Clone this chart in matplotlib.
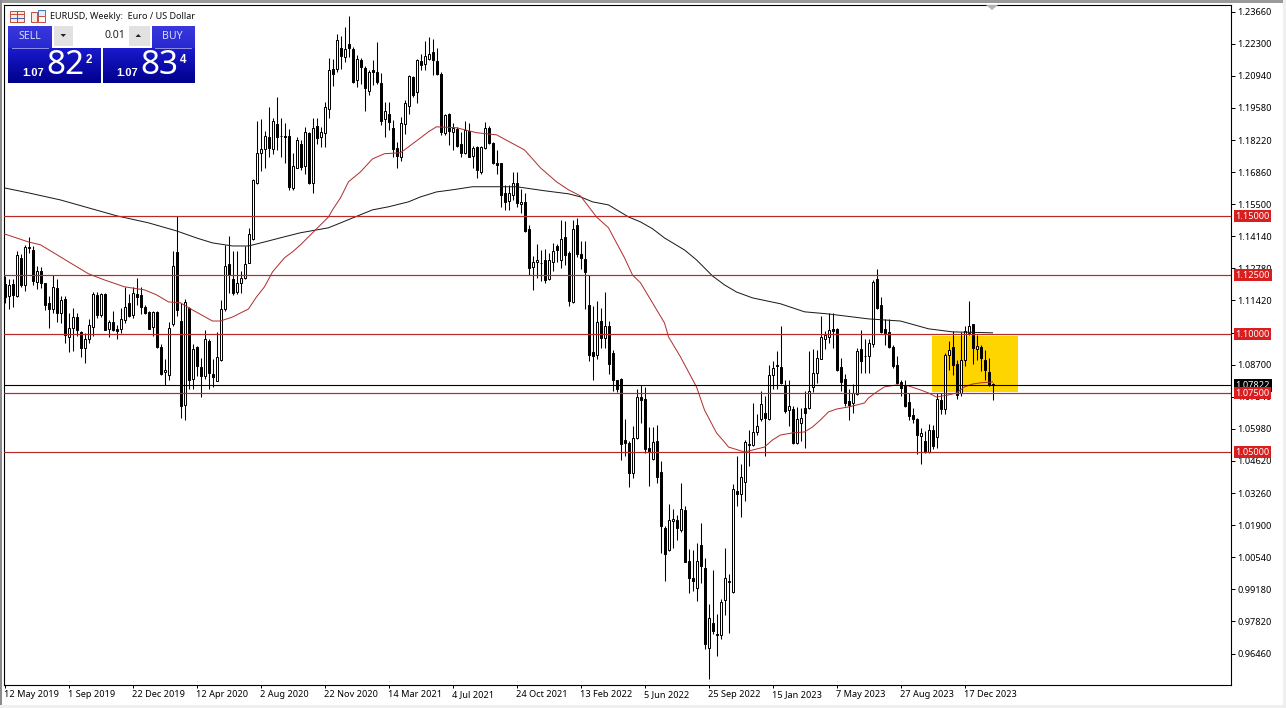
# -*- coding: utf-8 -*-
import matplotlib.pyplot as plt
from matplotlib.patches import Rectangle, Polygon
from matplotlib.transforms import blended_transform_factory
import numpy as np

plt.rcParams['font.family'] = ['Noto Sans', 'DejaVu Sans']

# weekly candles
directions = (
    "d u d u d u u d u d "
    "d d u d u d u u d d "
    "u u u d u d u d d u "
    "u d u d d d d u d d "
    "u u u d d u d u d d "
    "u d d u u u d d u u "
    "u u u u u u d u d u "
    "d d u u d u d u d u "
    "u u d u d u d d u d "
    "d u d d d u d d d u "
    "u u d u d u u d d d "
    "u d u d d u d u d u "
    "u d d d d d u u d u "
    "d d u u u d u u d u "
    "d d u d d d d d u d "
    "u d d d d d d u u d "
    "d d u d d d u u d u "
    "d d d u d d u d d u "
    "u u u d u u u u u u "
    "d u u u d d u d u u "
    "d u u u u u u d d d "
    "d d u u d d u u d d "
    "d d d d d d d d d u "
    "d u d u d u u d d u "
    "u u d u d d d d"
).split()

highs = [
    1.1245, 1.1231, 1.1231, 1.1351, 1.1337, 1.1379, 1.1412, 1.1372, 1.1288, 1.1285,
    1.1217, 1.1161, 1.1248, 1.1231, 1.1161, 1.1161, 1.1087, 1.1111, 1.1090, 1.1013,
    1.1006, 1.1062, 1.1178, 1.1178, 1.1175, 1.1172, 1.1059, 1.1097, 1.1037, 1.1111,
    1.1200, 1.1168, 1.1200, 1.1238, 1.1200, 1.1121, 1.1097, 1.1097, 1.1097, 1.0956,
    1.0893, 1.1051, 1.1351, 1.1499, 1.1133, 1.1149, 1.1116, 1.0956, 1.0949, 1.0900,
    1.1017, 1.0977, 1.0896, 1.1008, 1.1144, 1.1379, 1.1417, 1.1351, 1.1351, 1.1266,
    1.1372, 1.1450, 1.1655, 1.1903, 1.1913, 1.1861, 1.1960, 1.1917, 1.2005, 1.1917,
    1.1892, 1.1867, 1.1768, 1.1833, 1.1824, 1.1878, 1.1857, 1.1917, 1.1917, 1.1878,
    1.1984, 1.2171, 1.2167, 1.2270, 1.2261, 1.2301, 1.2346, 1.2216, 1.2181, 1.2171,
    1.2135, 1.2118, 1.2163, 1.2237, 1.2106, 1.1984, 1.1984, 1.1906, 1.1814, 1.1920,
    1.1991, 1.2096, 1.2092, 1.2167, 1.2188, 1.2242, 1.2259, 1.2252, 1.2213, 1.2111,
    1.1934, 1.1937, 1.1895, 1.1878, 1.1857, 1.1903, 1.1895, 1.1796, 1.1796, 1.1796,
    1.1899, 1.1881, 1.1814, 1.1779, 1.1726, 1.1631, 1.1631, 1.1688, 1.1688, 1.1613,
    1.1599, 1.1462, 1.1331, 1.1382, 1.1357, 1.1360, 1.1343, 1.1385, 1.1382, 1.1484,
    1.1477, 1.1350, 1.1484, 1.1491, 1.1395, 1.1392, 1.1251, 1.1120, 1.1138, 1.1110,
    1.1180, 1.1054, 1.0934, 1.0807, 1.0814, 1.0640, 1.0546, 1.0609, 1.0765, 1.0786,
    1.0776, 1.0606, 1.0606, 1.0616, 1.0463, 1.0186, 1.0281, 1.0260, 1.0235, 1.0369,
    1.0273, 1.0090, 1.0084, 1.0115, 1.0200, 1.0052, 0.9858, 1.0002, 0.9812, 0.9878,
    1.0094, 0.9981, 1.0366, 1.0484, 1.0451, 1.0549, 1.0594, 1.0707, 1.0659, 1.0757,
    1.0739, 1.0867, 1.0884, 1.0927, 1.1035, 1.0807, 1.0804, 1.0697, 1.0691, 1.0688,
    1.0759, 1.0928, 1.0935, 1.0932, 1.1076, 1.1013, 1.1090, 1.1090, 1.1027, 1.0900,
    1.0829, 1.0766, 1.0787, 1.0942, 1.1017, 1.0977, 1.0980, 1.1228, 1.1276, 1.1158,
    1.1062, 1.1065, 1.0952, 1.0907, 1.0805, 1.0804, 1.0750, 1.0687, 1.0645, 1.0602,
    1.0588, 1.0619, 1.0616, 1.0750, 1.0750, 1.0920, 1.0969, 1.1011, 1.0889, 1.1007,
    1.1035, 1.1141, 1.1044, 1.0997, 1.0955, 1.0934, 1.0898, 1.0793,
]
lows = [
    1.1133, 1.1107, 1.1116, 1.1158, 1.1200, 1.1182, 1.1344, 1.1206, 1.1189, 1.1196,
    1.1102, 1.1027, 1.1090, 1.1051, 1.1048, 1.0963, 1.0924, 1.0928, 1.0992, 1.0904,
    1.0879, 1.0963, 1.0992, 1.1069, 1.1073, 1.1016, 1.0989, 1.1013, 1.0980, 1.1003,
    1.1048, 1.1073, 1.1069, 1.1125, 1.1083, 1.1083, 1.1020, 1.0992, 1.0939, 1.0827,
    1.0783, 1.0805, 1.1034, 1.1076, 1.0642, 1.0636, 1.0769, 1.0769, 1.0822, 1.0731,
    1.0808, 1.0769, 1.0777, 1.0800, 1.0887, 1.1097, 1.1175, 1.1164, 1.1168, 1.1175,
    1.1234, 1.1299, 1.1400, 1.1635, 1.1692, 1.1702, 1.1748, 1.1762, 1.1779, 1.1748,
    1.1726, 1.1610, 1.1610, 1.1702, 1.1695, 1.1680, 1.1635, 1.1599, 1.1807, 1.1793,
    1.1793, 1.1917, 1.2050, 1.2111, 1.2125, 1.2153, 1.2174, 1.2064, 1.2047, 1.2061,
    1.1946, 1.2012, 1.2054, 1.2058, 1.1885, 1.1833, 1.1864, 1.1751, 1.1702, 1.1734,
    1.1847, 1.1934, 1.2005, 1.1979, 1.2118, 1.2118, 1.2163, 1.2096, 1.2096, 1.1843,
    1.1843, 1.1800, 1.1779, 1.1793, 1.1748, 1.1762, 1.1748, 1.1702, 1.1659, 1.1680,
    1.1786, 1.1805, 1.1720, 1.1680, 1.1537, 1.1525, 1.1525, 1.1568, 1.1539, 1.1512,
    1.1431, 1.1251, 1.1185, 1.1237, 1.1223, 1.1216, 1.1230, 1.1269, 1.1303, 1.1279,
    1.1293, 1.1117, 1.1131, 1.1326, 1.1276, 1.1106, 1.0884, 1.0804, 1.0894, 1.0941,
    1.0941, 1.0832, 1.0757, 1.0753, 1.0468, 1.0483, 1.0353, 1.0391, 1.0556, 1.0624,
    1.0497, 1.0358, 1.0468, 1.0369, 1.0070, 0.9953, 1.0080, 1.0094, 1.0129, 1.0160,
    1.0033, 0.9901, 0.9911, 0.9868, 0.9946, 0.9667, 0.9537, 0.9727, 0.9636, 0.9706,
    0.9808, 0.9732, 0.9904, 1.0270, 1.0224, 1.0291, 1.0442, 1.0524, 1.0574, 1.0631,
    1.0483, 1.0635, 1.0765, 1.0765, 1.0790, 1.0666, 1.0609, 1.0536, 1.0532, 1.0547,
    1.0519, 1.0681, 1.0755, 1.0794, 1.0896, 1.0938, 1.0963, 1.0942, 1.0843, 1.0759,
    1.0695, 1.0636, 1.0667, 1.0741, 1.0836, 1.0836, 1.0836, 1.0946, 1.1104, 1.1003,
    1.0952, 1.0942, 1.0858, 1.0787, 1.0738, 1.0691, 1.0635, 1.0624, 1.0490, 1.0450,
    1.0497, 1.0497, 1.0514, 1.0518, 1.0659, 1.0663, 1.0849, 1.0828, 1.0725, 1.0736,
    1.0866, 1.0997, 1.0875, 1.0891, 1.0842, 1.0807, 1.0779, 1.0719,
]
body_tops = [
    1.1210, 1.1206, 1.1210, 1.1333, 1.1323, 1.1369, 1.1369, 1.1358, 1.1266, 1.1266,
    1.1214, 1.1130, 1.1200, 1.1196, 1.1142, 1.1149, 1.1027, 1.1073, 1.1073, 1.1010,
    1.0977, 1.1037, 1.1171, 1.1164, 1.1168, 1.1168, 1.1052, 1.1052, 1.1020, 1.1062,
    1.1116, 1.1130, 1.1175, 1.1171, 1.1164, 1.1116, 1.1094, 1.1094, 1.1094, 1.0946,
    1.0849, 1.1027, 1.1290, 1.1347, 1.1055, 1.1135, 1.1111, 1.0935, 1.0946, 1.0862,
    1.0980, 1.0970, 1.0829, 1.0904, 1.1104, 1.1290, 1.1295, 1.1234, 1.1217, 1.1238,
    1.1298, 1.1424, 1.1652, 1.1768, 1.1782, 1.1838, 1.1833, 1.1902, 1.1889, 1.1841,
    1.1838, 1.1838, 1.1713, 1.1824, 1.1805, 1.1854, 1.1850, 1.1871, 1.1882, 1.1854,
    1.1960, 1.2118, 1.2125, 1.2247, 1.2213, 1.2209, 1.2230, 1.2209, 1.2167, 1.2163,
    1.2127, 1.2111, 1.2120, 1.2111, 1.2065, 1.1946, 1.1934, 1.1871, 1.1789, 1.1896,
    1.1977, 1.2092, 1.2087, 1.2160, 1.2156, 1.2177, 1.2188, 1.2195, 1.2156, 1.2103,
    1.1930, 1.1931, 1.1871, 1.1868, 1.1805, 1.1864, 1.1861, 1.1790, 1.1793, 1.1793,
    1.1875, 1.1875, 1.1810, 1.1726, 1.1723, 1.1596, 1.1596, 1.1638, 1.1638, 1.1561,
    1.1558, 1.1444, 1.1305, 1.1314, 1.1302, 1.1314, 1.1314, 1.1353, 1.1374, 1.1402,
    1.1410, 1.1343, 1.1444, 1.1460, 1.1340, 1.1317, 1.1124, 1.0922, 1.1049, 1.1054,
    1.1035, 1.1032, 1.0920, 1.0804, 1.0810, 1.0550, 1.0539, 1.0560, 1.0734, 1.0734,
    1.0725, 1.0517, 1.0542, 1.0545, 1.0415, 1.0179, 1.0210, 1.0214, 1.0210, 1.0259,
    1.0256, 1.0040, 0.9967, 1.0038, 1.0108, 1.0009, 0.9798, 0.9777, 0.9730, 0.9866,
    0.9967, 0.9952, 1.0343, 1.0336, 1.0394, 1.0542, 1.0532, 1.0585, 1.0612, 1.0704,
    1.0666, 1.0828, 1.0856, 1.0869, 1.0860, 1.0786, 1.0697, 1.0683, 1.0638, 1.0642,
    1.0686, 1.0759, 1.0836, 1.0900, 1.0989, 1.0994, 1.1016, 1.1020, 1.1023, 1.0862,
    1.0808, 1.0717, 1.0749, 1.0928, 1.0938, 1.0908, 1.0963, 1.1221, 1.1231, 1.1125,
    1.1023, 1.1008, 1.0946, 1.0869, 1.0797, 1.0786, 1.0712, 1.0657, 1.0638, 1.0581,
    1.0546, 1.0595, 1.0595, 1.0725, 1.0722, 1.0913, 1.0934, 1.0945, 1.0875, 1.0891,
    1.1011, 1.1035, 1.1044, 1.0948, 1.0945, 1.0891, 1.0839, 1.0787,
]
body_bottoms = [
    1.1158, 1.1161, 1.1164, 1.1161, 1.1206, 1.1206, 1.1365, 1.1224, 1.1221, 1.1217,
    1.1125, 1.1104, 1.1104, 1.1087, 1.1090, 1.0994, 1.0989, 1.1027, 1.1017, 1.0942,
    1.0942, 1.0980, 1.1031, 1.1079, 1.1079, 1.1017, 1.1020, 1.1017, 1.1013, 1.1020,
    1.1059, 1.1076, 1.1080, 1.1158, 1.1114, 1.1087, 1.1023, 1.1031, 1.0944, 1.0829,
    1.0839, 1.0827, 1.1041, 1.1102, 1.0695, 1.0698, 1.0805, 1.0808, 1.0865, 1.0822,
    1.0822, 1.0836, 1.0817, 1.0801, 1.0890, 1.1107, 1.1248, 1.1172, 1.1178, 1.1217,
    1.1238, 1.1302, 1.1403, 1.1638, 1.1765, 1.1782, 1.1788, 1.1786, 1.1833, 1.1838,
    1.1833, 1.1624, 1.1617, 1.1704, 1.1709, 1.1713, 1.1641, 1.1641, 1.1829, 1.1836,
    1.1850, 1.1955, 1.2101, 1.2125, 1.2177, 1.2174, 1.2212, 1.2068, 1.2075, 1.2132,
    1.2043, 1.2030, 1.2111, 1.2068, 1.1903, 1.1913, 1.1899, 1.1786, 1.1755, 1.1751,
    1.1889, 1.1968, 1.2012, 1.2026, 1.2139, 1.2142, 1.2166, 1.2160, 1.2103, 1.1857,
    1.1853, 1.1861, 1.1857, 1.1796, 1.1765, 1.1768, 1.1751, 1.1755, 1.1695, 1.1688,
    1.1790, 1.1810, 1.1723, 1.1716, 1.1589, 1.1560, 1.1565, 1.1589, 1.1554, 1.1551,
    1.1437, 1.1278, 1.1286, 1.1303, 1.1299, 1.1230, 1.1233, 1.1307, 1.1354, 1.1312,
    1.1336, 1.1138, 1.1135, 1.1340, 1.1321, 1.1261, 1.0913, 1.0908, 1.0913, 1.0983,
    1.0983, 1.0875, 1.0804, 1.0765, 1.0536, 1.0539, 1.0409, 1.0409, 1.0560, 1.0719,
    1.0511, 1.0500, 1.0470, 1.0393, 1.0186, 1.0069, 1.0083, 1.0207, 1.0176, 1.0171,
    1.0035, 0.9964, 0.9953, 0.9925, 1.0016, 0.9685, 0.9671, 0.9741, 0.9723, 0.9723,
    0.9873, 0.9949, 0.9906, 1.0324, 1.0322, 1.0373, 1.0530, 1.0528, 1.0584, 1.0638,
    1.0645, 1.0638, 1.0825, 1.0866, 1.0793, 1.0673, 1.0677, 1.0539, 1.0539, 1.0625,
    1.0664, 1.0688, 1.0777, 1.0834, 1.0896, 1.0980, 1.0987, 1.1013, 1.0848, 1.0797,
    1.0707, 1.0698, 1.0707, 1.0745, 1.0886, 1.0906, 1.0907, 1.0956, 1.1111, 1.1008,
    1.1003, 1.0946, 1.0865, 1.0791, 1.0773, 1.0694, 1.0652, 1.0640, 1.0570, 1.0567,
    1.0499, 1.0501, 1.0525, 1.0564, 1.0683, 1.0683, 1.0910, 1.0870, 1.0743, 1.0748,
    1.0889, 1.1004, 1.0941, 1.0937, 1.0898, 1.0849, 1.0783, 1.0782,
]

# moving averages, read at a handful of weeks
ma_fast_weeks = [0, 6, 9, 16, 21, 25, 30, 35, 38, 41, 44, 47, 52, 54, 57, 61, 63, 65, 67, 70,
                 72, 74, 81, 82, 84, 86, 89, 92, 95, 99, 101, 104, 106, 108, 113, 118, 123,
                 130, 134, 138, 141, 144, 148, 151, 153, 155, 157, 159, 162, 165, 166, 169,
                 173, 175, 178, 180, 181, 185, 190, 192, 194, 197, 200, 202, 204, 206, 208,
                 211, 213, 215, 216, 218, 220, 223, 226, 229, 231, 233, 236, 238, 240, 242,
                 244, 247]
ma_fast = [1.1424, 1.1390, 1.1378, 1.1306, 1.1255, 1.1229, 1.1200, 1.1187, 1.1166, 1.1136,
           1.1132, 1.1102, 1.1055, 1.1055, 1.1072, 1.1106, 1.1157, 1.1200, 1.1263, 1.1323,
           1.1348, 1.1378, 1.1496, 1.1526, 1.1577, 1.1645, 1.1687, 1.1742, 1.1764, 1.1768,
           1.1793, 1.1831, 1.1857, 1.1878, 1.1874, 1.1853, 1.1844,
           1.1780, 1.1704, 1.1645, 1.1611, 1.1585, 1.1496, 1.1450, 1.1386, 1.1323, 1.1250,
           1.1217, 1.1132, 1.1047, 1.0988, 1.0903,
           1.0776, 1.0678, 1.0581, 1.0542, 1.0521, 1.0500, 1.0521, 1.0551, 1.0572, 1.0581,
           1.0585, 1.0606, 1.0636, 1.0670, 1.0682,
           1.0691, 1.0699, 1.0708, 1.0729, 1.0754, 1.0776, 1.0784, 1.0780, 1.0763, 1.0750,
           1.0733, 1.0742, 1.0750, 1.0776, 1.0788,
           1.0793, 1.0797]
ma_slow_weeks = [0, 6, 14, 28, 36, 43, 48, 52, 57, 61, 65, 70, 74, 81, 92, 96, 101, 104, 108,
                 112, 117, 123, 128, 135, 141, 144, 147, 151, 156, 159, 162, 165, 170, 173,
                 177, 180, 183, 187, 194, 200, 206, 216, 224, 231, 237, 247]
ma_slow = [1.1619, 1.1598, 1.1568, 1.1501, 1.1471, 1.1437, 1.1407, 1.1386, 1.1373, 1.1373,
           1.1390, 1.1412, 1.1429, 1.1450, 1.1526, 1.1539, 1.1560, 1.1581, 1.1602,
           1.1611, 1.1624, 1.1624, 1.1624, 1.1607, 1.1594, 1.1581, 1.1560, 1.1547, 1.1496,
           1.1475, 1.1446, 1.1407, 1.1356, 1.1314,
           1.1246, 1.1208, 1.1178, 1.1153, 1.1128, 1.1094, 1.1085, 1.1064, 1.1055, 1.1022,
           1.1009, 1.1005]

level_prices = [1.1500, 1.1250, 1.1000, 1.0750, 1.0500]
level_labels = ['1.15000', '1.12500', '1.10000', '1.07500', '1.05000']
last_price = 1.07822
last_label = '1.07822'

y_ticks = [1.2366, 1.2230, 1.2094, 1.1958, 1.1822, 1.1686, 1.1550, 1.1414, 1.1278, 1.1142,
           1.1006, 1.0870, 1.0734, 1.0598, 1.0462, 1.0326, 1.0190, 1.0054, 0.9918, 0.9782,
           0.9646]
x_tick_weeks = [0, 16, 32, 48, 64, 80, 96, 112, 128, 144, 160, 176, 192, 208, 224, 240]
x_tick_labels = ['12 May 2019', '1 Sep 2019', '22 Dec 2019', '12 Apr 2020', '2 Aug 2020',
                 '22 Nov 2020', '14 Mar 2021', '4 Jul 2021', '24 Oct 2021', '13 Feb 2022',
                 '5 Jun 2022', '25 Sep 2022', '15 Jan 2023', '7 May 2023', '27 Aug 2023',
                 '17 Dec 2023']

W, H = 1286, 708
PX = 0.72  # one pixel in points at dpi 100
RED = '#b82a2a'

fig = plt.figure(figsize=(W / 100, H / 100), dpi=100, facecolor='white')
ax = fig.add_axes([4 / W, 1 - 685 / H, (1231 - 4) / W, (685 - 5) / H])
ax.set_xlim(-0.125, 306.625)
ax.set_ylim(0.95127, 1.23941)

for side in ax.spines.values():
    side.set_linewidth(1.1 * PX)

# highlighted box
ax.add_patch(Rectangle((231.9, 1.0754), 21.5, 0.0238, facecolor='#ffd500', edgecolor='none', zorder=1))

# candles
weeks = np.arange(len(highs))
ups = np.array(directions) == 'u'
ax.vlines(weeks, lows, highs, color='black', linewidth=1.05 * PX, zorder=2)
tops = np.array(body_tops)
bottoms = np.array(body_bottoms)
ax.bar(weeks, np.maximum(tops - bottoms, 0.0002), bottom=bottoms, width=0.5,
       color=np.where(ups, 'white', 'black').tolist(), edgecolor='black',
       linewidth=1.0 * PX, zorder=2.2)

# moving averages
ax.plot(ma_slow_weeks, ma_slow, color='#1a1a1a', linewidth=1.0 * PX, zorder=3)
ax.plot(ma_fast_weeks, ma_fast, color='#b03030', linewidth=1.0 * PX, zorder=3)

# horizontal levels
ax.axhline(last_price, color='black', linewidth=1.1 * PX, zorder=3.5)
for p in level_prices:
    ax.axhline(p, color=RED, linewidth=1.2 * PX, zorder=3.5)

# axes
ax.yaxis.tick_right()
ax.set_yticks(y_ticks)
ax.set_yticklabels(['%.5f' % v for v in y_ticks])
ax.tick_params(axis='y', length=4 * PX, width=PX, pad=1.5, labelsize=6.6, colors='black')
ax.set_xticks(x_tick_weeks)
ax.set_xticklabels(x_tick_labels, ha='left')
ax.tick_params(axis='x', length=3 * PX, width=PX, pad=1.2, labelsize=6.6, colors='black')

# price tags on the right
trans = blended_transform_factory(ax.transAxes, ax.transData)
tag_x = 1 + 4.5 / (1231 - 4)
ax.text(tag_x, last_price, last_label, transform=trans, color='white', fontsize=6.6, va='center',
        ha='left', clip_on=False, zorder=6,
        bbox=dict(boxstyle='square,pad=0.18', facecolor='black', edgecolor='none'))
for p, lab in zip(level_prices, level_labels):
    ax.text(tag_x, p, lab, transform=trans, color='white', fontsize=6.6, va='center',
            ha='left', clip_on=False, zorder=7,
            bbox=dict(boxstyle='square,pad=0.18', facecolor='#d81e1e', edgecolor='none'))

# overlay in screen pixels for the window chrome and the trade panel
ov = fig.add_axes([0, 0, 1, 1], zorder=10)
ov.patch.set_alpha(0)
ov.axis('off')


def box(x0, y0, x1, y1, **kw):
    kw.setdefault('edgecolor', 'none')
    ov.add_patch(Rectangle((x0, y0), x1 - x0, y1 - y0, **kw))


def grad(x0, y0, x1, y1, c_top, c_bot):
    c = np.linspace(np.array(c_top), np.array(c_bot), 32).reshape(-1, 1, 3)
    ov.imshow(c, extent=(x0, x1, y1, y0), aspect='auto', zorder=2, interpolation='bilinear')


# window borders
box(0, 0, W, 2.5, facecolor='#9a9a9a')
box(0, 0, 1.5, H, facecolor='#8c8c8c')
box(1283, 0, W, H, facecolor='#efefef')
box(0, 705, W, H, facecolor='#efefef')

# shift marker
ov.add_patch(Polygon([(986, 5), (998, 5), (992, 10)], facecolor='#b4b4b4', edgecolor='none'))

# chart icons
box(9.5, 10.5, 23.5, 21.5, facecolor='#fbe9e4', edgecolor='#c8503c', linewidth=PX)
ov.plot([9.5, 23.5], [14, 14], color='#c8503c', lw=PX)
ov.plot([9.5, 23.5], [17.5, 17.5], color='#3c64b4', lw=PX)
ov.plot([16.5, 16.5], [10.5, 21.5], color='#3c64b4', lw=PX)
box(30.5, 11.5, 37, 21.5, facecolor='#fbe9e4', edgecolor='#c8503c', linewidth=PX)
box(38, 10, 45, 16, facecolor='#e4ecf8', edgecolor='#4878b8', linewidth=PX)
box(38, 16, 45, 21.5, facecolor='white', edgecolor='#c8503c', linewidth=PX)

ov.text(50, 16.5, 'EURUSD, Weekly:  Euro / US Dollar', fontsize=6.5, color='#111111',
        va='center', ha='left')

# trade panel
grad(8, 26, 52, 48, (0.22, 0.22, 0.86), (0.16, 0.16, 0.82))
grad(152, 26, 195, 48, (0.22, 0.22, 0.86), (0.16, 0.16, 0.82))
grad(8, 48, 101, 83, (0.10, 0.10, 0.80), (0.0, 0.0, 0.55))
grad(103, 48, 195, 83, (0.10, 0.10, 0.80), (0.0, 0.0, 0.55))
ov.plot([12, 48], [47.5, 47.5], color='#8c8ce6', lw=PX, zorder=3)
ov.plot([155, 191], [47.5, 47.5], color='#8c8ce6', lw=PX, zorder=3)
box(54, 26, 73, 46, facecolor='#e2e2e2', zorder=3)
box(73, 26, 129, 46, facecolor='white', zorder=3)
box(129, 26, 150, 46, facecolor='#e2e2e2', zorder=3)
ov.add_patch(Polygon([(60.5, 34), (66, 34), (63.25, 37)], facecolor='#222222', zorder=4))
ov.add_patch(Polygon([(135.5, 37), (141, 37), (138.25, 34)], facecolor='#222222', zorder=4))
ov.text(125, 36, '0.01', fontsize=7.6, color='#222222', ha='right', va='center', zorder=4)
ov.text(29.5, 36.5, 'SELL', fontsize=7.6, color='#d8d8ff', ha='center', va='center', zorder=4)
ov.text(172, 36.5, 'BUY', fontsize=7.6, color='#d8d8ff', ha='center', va='center', zorder=4)
ov.text(22, 73.5, '1.07', fontsize=8, color='white', fontweight='bold', ha='left', va='center',
        family='Liberation Sans', zorder=4)
ov.text(65, 66, '82', fontsize=24, color='white', ha='center', va='center', zorder=4)
ov.text(88.5, 60, '2', fontsize=8.4, color='white', fontweight='bold', ha='center', va='center',
        family='Liberation Sans', zorder=4)
ov.text(116, 73.5, '1.07', fontsize=8, color='white', fontweight='bold', ha='left', va='center',
        family='Liberation Sans', zorder=4)
ov.text(159, 66, '83', fontsize=24, color='white', ha='center', va='center', zorder=4)
ov.text(183.5, 60, '4', fontsize=8.4, color='white', fontweight='bold', ha='center', va='center',
        family='Liberation Sans', zorder=4)

ov.set_xlim(0, W)
ov.set_ylim(H, 0)

fig.savefig('out.png', dpi=100)
